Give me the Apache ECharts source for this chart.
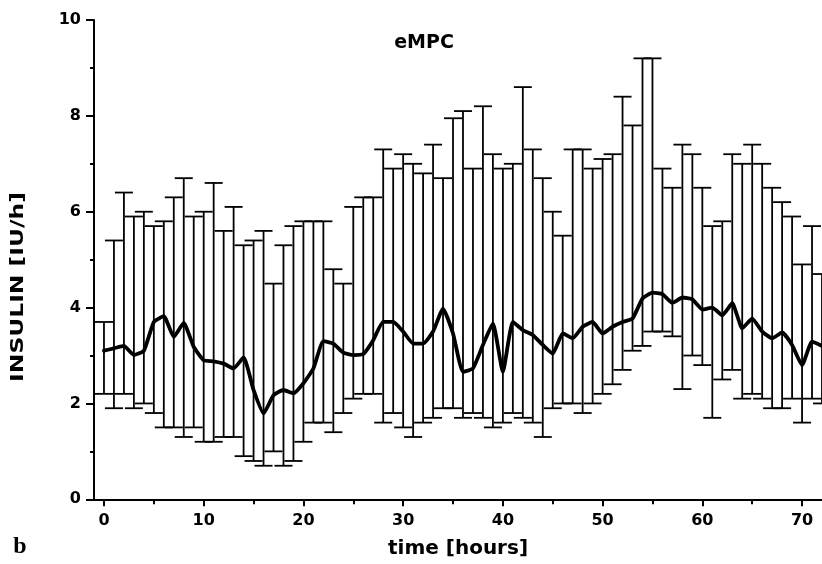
<!DOCTYPE html>
<html>
<head>
<meta charset="utf-8">
<script src="https://cdn.jsdelivr.net/npm/echarts@6/dist/echarts.min.js"></script>
<style>
html,body{margin:0;padding:0;background:#fff;}
#chart{width:822px;height:564px;}
</style>
</head>
<body>
<div id="chart"></div>
<script>
// hours 0..72
const hours = [];
for (let h = 0; h <= 72; h++) hours.push(h);

const meanInsulin = [3.10,3.15,3.20,3.01,3.10,3.70,3.82,3.39,3.68,3.18,
  2.90,2.88,2.83,2.73,2.96,2.28,1.79,2.17,2.28,2.21,
  2.42,2.73,3.30,3.25,3.06,3.01,3.03,3.32,3.70,3.70,
  3.50,3.25,3.25,3.50,3.98,3.46,2.66,2.73,3.22,3.67,
  2.66,3.70,3.53,3.43,3.22,3.04,3.46,3.36,3.60,3.70,
  3.46,3.60,3.70,3.77,4.19,4.31,4.28,4.10,4.21,4.17,
  3.96,4.00,3.84,4.09,3.57,3.77,3.50,3.36,3.48,3.22,
  2.80,3.29,3.20];

const upperInsulin = [3.7,5.4,6.4,5.9,6.0,5.7,5.8,6.3,6.7,5.9,
  6.0,6.6,5.6,6.1,5.3,5.4,5.6,4.5,5.3,5.7,
  5.8,5.8,5.8,4.8,4.5,6.1,6.3,6.3,7.3,6.9,
  7.2,7.0,6.8,7.4,6.7,7.95,8.1,6.9,8.2,7.2,
  6.9,7.0,8.6,7.3,6.7,6.0,5.5,7.3,7.3,6.9,
  7.1,7.2,8.4,7.8,9.2,9.2,6.9,6.5,7.4,7.2,
  6.5,5.7,5.8,7.2,7.0,7.4,7.0,6.5,6.2,5.9,
  4.9,5.7,4.7];

const lowerInsulin = [2.2,1.9,2.2,1.9,2.0,1.8,1.5,1.5,1.3,1.5,
  1.2,1.2,1.3,1.3,0.9,0.8,0.7,1.0,0.7,0.8,
  1.2,1.6,1.6,1.4,1.8,2.1,2.2,2.2,1.6,1.8,
  1.5,1.3,1.6,1.7,1.9,1.9,1.7,1.8,1.7,1.5,
  1.6,1.8,1.7,1.6,1.3,1.9,2.0,2.0,1.8,2.0,
  2.2,2.4,2.7,3.1,3.2,3.5,3.5,3.4,2.3,3.0,
  2.8,1.7,2.5,2.7,2.1,2.2,2.1,1.9,1.9,2.1,
  1.6,2.1,2.0];

const xTickValues = [0,10,20,30,40,50,60,70];
const xMinorTickValues = [5,15,25,35,45,55,65];

const meanData = hours.map((h, i) => [h, meanInsulin[i]]);
const errData = hours.map((h, i) => [h, lowerInsulin[i], upperInsulin[i]]);

const chart = echarts.init(document.getElementById('chart'), null, {renderer: 'canvas'});
const FONT = '"DejaVu Sans", sans-serif';

chart.setOption({
  backgroundColor: '#fff',
  animation: false,
  grid: {left: 94, right: -2, top: 20, bottom: 64.7, containLabel: false},
  xAxis: [{
    type: 'value', min: -1, max: 72,
    axisLine: {show: true, onZero: false, lineStyle: {color: '#000', width: 2}},
    axisTick: {show: true, inside: false, length: 7, lineStyle: {color: '#000', width: 2}, customValues: xTickValues},
    axisLabel: {show: true, margin: 14, color: '#000', fontFamily: FONT, fontWeight: 'bold', fontSize: 16, customValues: xTickValues},
    splitLine: {show: false}
  }, {
    type: 'value', min: -1, max: 72, position: 'bottom', gridIndex: 0,
    axisLine: {show: false},
    axisTick: {show: true, inside: false, length: 5, lineStyle: {color: '#000', width: 2}, customValues: xMinorTickValues},
    axisLabel: {show: false},
    splitLine: {show: false}
  }],
  yAxis: {
    type: 'value', min: 0, max: 10, interval: 2,
    axisLine: {show: true, onZero: false, lineStyle: {color: '#000', width: 2}},
    axisTick: {show: true, inside: false, length: 8, lineStyle: {color: '#000', width: 2}},
    minorTick: {show: true, splitNumber: 2, length: 4, lineStyle: {color: '#000', width: 2}},
    axisLabel: {show: true, margin: 13, color: '#000', fontFamily: FONT, fontWeight: 'bold', fontSize: 16},
    splitLine: {show: false}
  },
  title: {
    text: 'eMPC', left: 419, top: 29, textAlign: 'center',
    textStyle: {fontFamily: FONT, fontWeight: 'bold', fontSize: 19, color: '#000'}
  },
  graphic: [
    {type: 'text', x: 18, y: 287, rotation: Math.PI / 2, scaleX: 1.3,
      style: {text: 'INSULIN [IU/h]', font: 'bold 18px "DejaVu Sans", sans-serif', fill: '#000', textAlign: 'center', textVerticalAlign: 'middle'}},
    {type: 'text', x: 458, y: 549,
      style: {text: 'time [hours]', font: 'bold 20px "DejaVu Sans", sans-serif', fill: '#000', textAlign: 'center', textVerticalAlign: 'middle'}},
    {type: 'text', x: 20, y: 547,
      style: {text: 'b', font: 'bold 24px "Liberation Serif", serif', fill: '#000', textAlign: 'center', textVerticalAlign: 'middle'}}
  ],
  series: [{
    type: 'custom',
    xAxisIndex: 0,
    data: errData,
    encode: {x: 0, y: [1, 2]},
    clip: false,
    z: 2,
    renderItem: function (params, api) {
      const x = api.value(0);
      const lo = api.coord([x, api.value(1)]);
      const hi = api.coord([x, api.value(2)]);
      const hw = 9;
      const st = {stroke: '#000', lineWidth: 1.8, fill: null};
      return {
        type: 'group',
        children: [
          {type: 'line', shape: {x1: lo[0], y1: lo[1], x2: hi[0], y2: hi[1]}, style: st},
          {type: 'line', shape: {x1: hi[0] - hw, y1: hi[1], x2: hi[0] + hw, y2: hi[1]}, style: st},
          {type: 'line', shape: {x1: lo[0] - hw, y1: lo[1], x2: lo[0] + hw, y2: lo[1]}, style: st}
        ]
      };
    }
  }, {
    type: 'line',
    xAxisIndex: 0,
    data: meanData,
    smooth: 0.15,
    symbol: 'none',
    z: 3,
    lineStyle: {color: '#000', width: 3.8, join: 'round', cap: 'round'}
  }]
});
</script>
</body>
</html>
